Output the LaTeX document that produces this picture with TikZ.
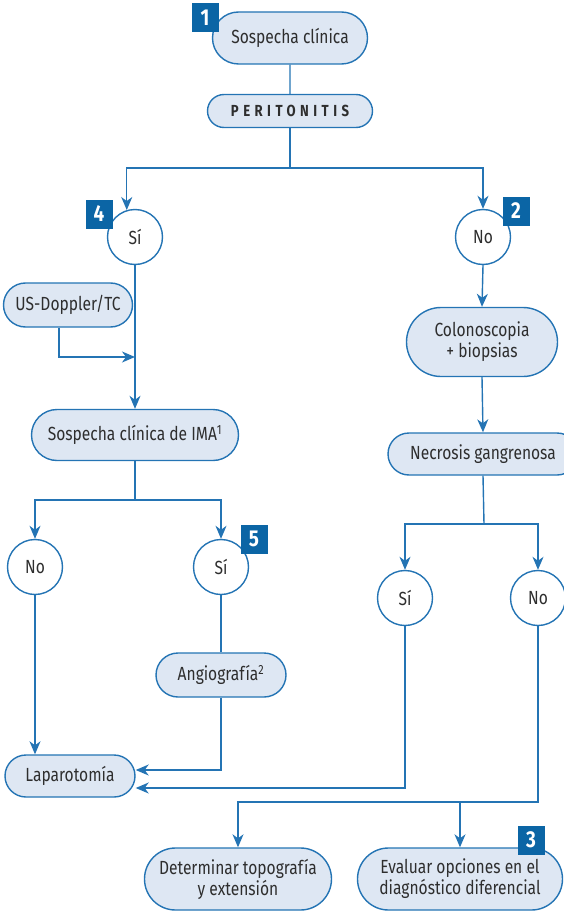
\documentclass[tikz,border=0pt]{standalone}
\usepackage{fontspec}
\setmainfont{Fira Sans}[FakeStretch=0.82]
\usetikzlibrary{shapes.misc,arrows.meta}
\definecolor{flowblue}{HTML}{2474B4}
\definecolor{flowfill}{HTML}{DEE7F3}
\definecolor{badgeblue}{HTML}{0B65A5}
\definecolor{txtgray}{HTML}{2E2E2E}
\begin{document}
\begin{tikzpicture}[x=1pt, y=-1pt,
    pill/.style={rounded rectangle, draw=flowblue, fill=flowfill, line width=1.4pt,
      text=txtgray, font=\fontsize{19}{21}\selectfont, align=center, inner sep=0pt},
    choice/.style={circle, draw=flowblue, fill=white, line width=1.4pt, minimum size=55pt,
      inner sep=0pt, text=txtgray, font=\fontsize{19}{21}\selectfont},
    badge/.style={fill=badgeblue, text=white, font=\bfseries\fontsize{23}{23}\selectfont,
      minimum width=27pt, minimum height=29pt, inner sep=0pt},
    link/.style={draw=flowblue, line width=1.4pt},
    arr/.style={link, -{Stealth[length=13pt, width=11pt, inset=4pt]}}]
    \useasboundingbox (0,0) rectangle (563,912);
    % boxes
    \node[pill, minimum width=155pt, minimum height=52pt] (clin) at (290,38) {Sospecha clínica};
    \node[pill, minimum width=165pt, minimum height=33pt, font=\bfseries\fontsize{16}{18}\selectfont\addfontfeature{LetterSpace=28}] (perit) at (290,111) {PERITONITIS};
    \node[pill, minimum width=129pt, minimum height=44pt] (usdop) at (68,305) {US-Doppler/TC};
    \node[pill, minimum width=207pt, minimum height=51pt] (ima) at (135,435) {Sospecha clínica de IMA\textsuperscript{1}};
    \node[pill, minimum width=151pt, minimum height=69pt] (colono) at (482,342) {Colonoscopia\\+ biopsias};
    \node[pill, minimum width=190pt, minimum height=42pt] (necro) at (483,454) {Necrosis gangrenosa};
    \node[pill, minimum width=130pt, minimum height=44pt] (angio) at (221,675) {Angiografía\textsuperscript{2}};
    \node[pill, minimum width=130pt, minimum height=42pt] (lapa) at (70,776) {Laparotomía};
    \node[pill, minimum width=187pt, minimum height=62pt] (deter) at (238,879) {Determinar topografía\\y extensión};
    \node[pill, minimum width=205pt, minimum height=62pt] (evalu) at (460,879) {Evaluar opciones en el\\diagnóstico diferencial};
    % decisions
    \node[choice] (si1) at (135,237) {Sí};
    \node[choice] (no1) at (483,237) {No};
    \node[choice] (no2) at (35,567) {No};
    \node[choice] (si2) at (221,567) {Sí};
    \node[choice] (si3) at (405,598) {Sí};
    \node[choice] (no3) at (538,598) {No};
    % numbers
    \node[badge] (b1) at (205,18) {1};
    \node[badge] (b4) at (99,214) {4};
    \node[badge] (b2) at (516,211) {2};
    \node[badge] (b5) at (254,539) {5};
    \node[badge] (b3) at (531,840) {3};
    \coordinate (split1) at (290,168);
    \coordinate (join1) at (135,357);
    \coordinate (split2) at (135,500);
    \coordinate (split3) at (484,524);
    \coordinate (split4) at (460,802);
    % connectors
    \draw[link] (clin) -- (perit);
    \draw[link] (perit.south) -- (split1);
    \draw[arr] (split1) -| (si1.107);
    \draw[arr] (split1) -| (no1.north);
    \draw[arr] (si1.south) -- (ima.north);
    \draw[arr] ([xshift=-9pt]usdop.south) |- (join1);
    \draw[link] (ima.south) -- (split2);
    \draw[arr] (split2) -| (no2.north);
    \draw[arr] (split2) -| (si2.north);
    \draw[arr] (no2.south) -- (no2.south |- lapa.north);
    \draw[link] (si2.south) -- (angio.north);
    \draw[arr] (angio.south) |- ([yshift=6pt]lapa.east);
    \draw[arr] (si3.south) |- ([yshift=-12pt]lapa.east);
    \draw[arr] (no1.south) -- (colono.north);
    \draw[arr] (colono.south) -- (necro.north);
    \draw[link] (necro.south) -- (split3);
    \draw[arr] (split3) -| (si3.north);
    \draw[arr] (split3) -| (no3.north);
    \draw[link] (no3.south) |- (split4);
    \draw[arr] (split4) -| (deter.north);
    \draw[arr] (split4) -- (evalu.north);
  \end{tikzpicture}
\end{document}
